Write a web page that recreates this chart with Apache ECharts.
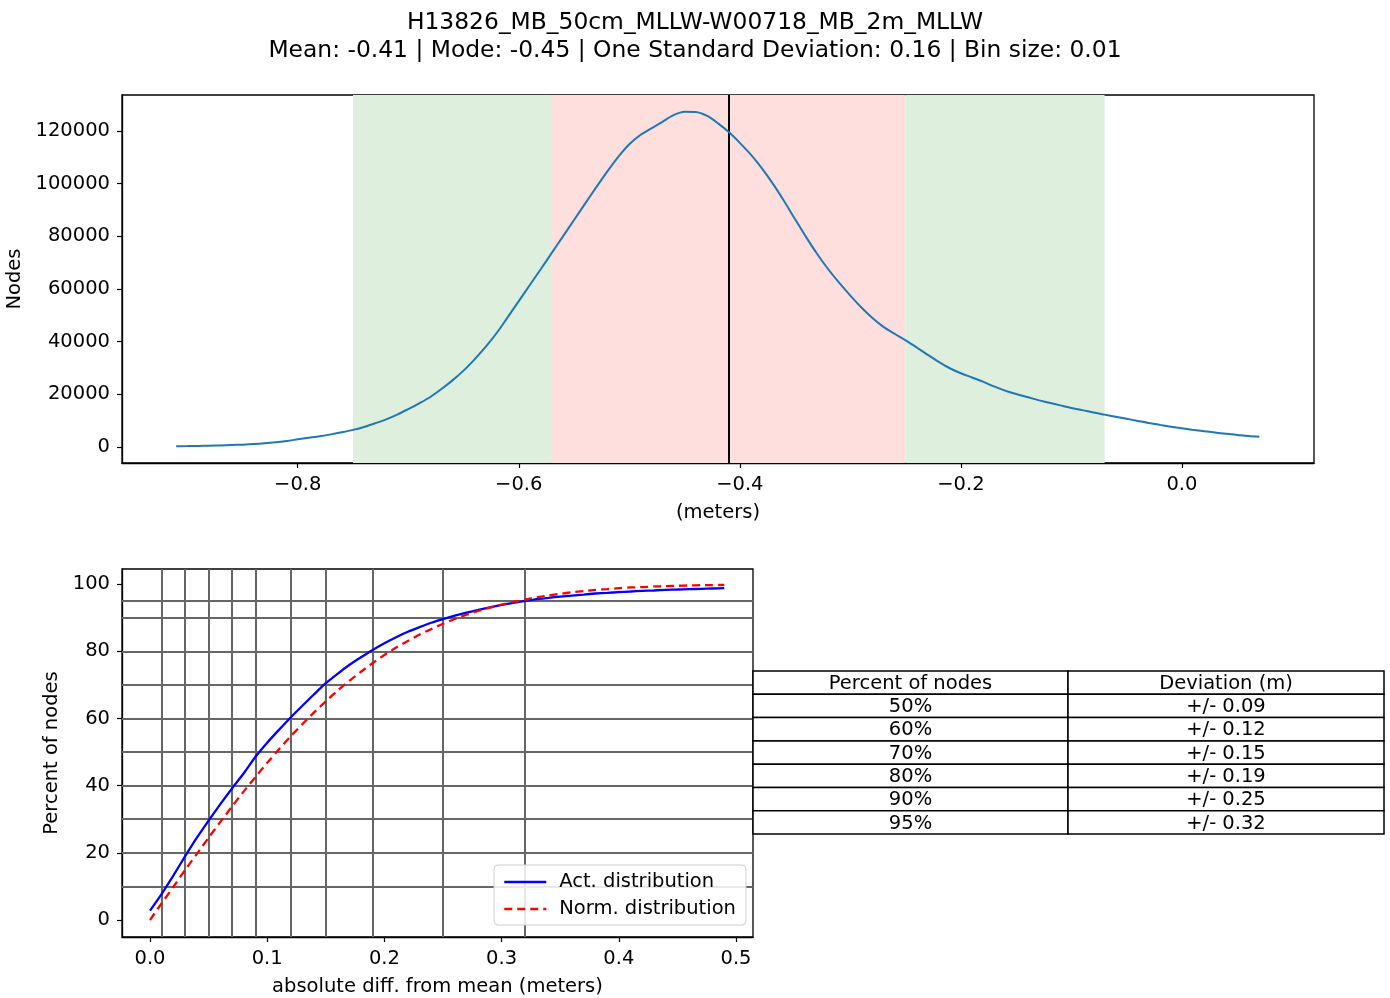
<!DOCTYPE html>
<html>
<head>
<meta charset="utf-8">
<script src="https://cdn.jsdelivr.net/npm/echarts@6/dist/echarts.min.js"></script>
<style>
html,body{margin:0;padding:0;background:#fff;}
#chart{width:1390px;height:998px;}
</style>
</head>
<body>
<div id="chart"></div>
<script>
// ---------- DATA ----------
const titleLine1 = 'H13826_MB_50cm_MLLW-W00718_MB_2m_MLLW';
const titleLine2 = 'Mean: -0.41 | Mode: -0.45 | One Standard Deviation: 0.16 | Bin size: 0.01';

const binCenters = [-0.91,-0.90,-0.89,-0.88,-0.87,-0.86,-0.85,-0.84,-0.83,-0.82,-0.81,-0.80,-0.79,-0.78,-0.77,-0.76,-0.75,-0.74,-0.73,-0.72,-0.71,-0.70,-0.69,-0.68,-0.67,-0.66,-0.65,-0.64,-0.63,-0.62,-0.61,-0.60,-0.59,-0.58,-0.57,-0.56,-0.55,-0.54,-0.53,-0.52,-0.51,-0.50,-0.49,-0.48,-0.47,-0.46,-0.45,-0.44,-0.43,-0.42,-0.41,-0.40,-0.39,-0.38,-0.37,-0.36,-0.35,-0.34,-0.33,-0.32,-0.31,-0.30,-0.29,-0.28,-0.27,-0.26,-0.25,-0.24,-0.23,-0.22,-0.21,-0.20,-0.19,-0.18,-0.17,-0.16,-0.15,-0.14,-0.13,-0.12,-0.11,-0.10,-0.09,-0.08,-0.07,-0.06,-0.05,-0.04,-0.03,-0.02,-0.01,0.00,0.01,0.02,0.03,0.04,0.05,0.06,0.07];
const nodeCounts = [300,350,420,500,600,750,900,1100,1400,1800,2300,2900,3500,4100,4800,5600,6500,7600,9000,10500,12300,14400,16600,19000,22000,25300,29000,33300,38000,43300,49300,55400,61500,67600,73800,80000,86200,92400,98600,104600,110200,115000,118500,121000,123500,126000,127300,127200,125800,123000,119600,115500,111000,105800,99900,93400,86500,79700,73300,67500,62300,57500,53000,49000,45600,43000,40500,37800,35000,32300,29900,28000,26400,24800,23000,21400,20100,19000,17800,16800,15800,14800,14000,13100,12300,11500,10700,9900,9100,8400,7700,7100,6500,6000,5500,5000,4600,4200,3900];

const meanValue = -0.41;
const greenBands = [[-0.75, -0.57], [-0.25, -0.07]];
const redBands = [[-0.57, -0.25]];
const topXTicks = [-0.8, -0.6, -0.4, -0.2, 0.0];
const topYTicks = [0, 20000, 40000, 60000, 80000, 100000, 120000];

const diffX = [0.00,0.01,0.02,0.03,0.04,0.05,0.06,0.07,0.08,0.09,0.10,0.11,0.12,0.13,0.14,0.15,0.16,0.17,0.18,0.19,0.20,0.21,0.22,0.23,0.24,0.25,0.26,0.27,0.28,0.29,0.30,0.31,0.32,0.33,0.34,0.35,0.36,0.37,0.38,0.39,0.40,0.41,0.42,0.43,0.44,0.45,0.46,0.47,0.48,0.49];
const actPercent = [2.8,7.8,13.3,19.0,24.5,29.6,34.5,39.2,43.7,48.6,52.8,56.6,60.3,63.8,67.2,70.5,73.3,75.9,78.2,80.4,82.4,84.2,85.8,87.2,88.5,89.6,90.6,91.5,92.3,93.1,93.8,94.4,95.0,95.5,95.9,96.3,96.6,96.9,97.2,97.4,97.6,97.8,98.0,98.1,98.3,98.4,98.5,98.6,98.7,98.8];
const normPercent = [0,5.0,9.9,14.9,19.7,24.5,29.2,33.8,38.3,42.6,46.8,50.8,54.7,58.3,61.8,65.1,68.3,71.2,73.9,76.5,78.9,81.1,83.1,85.0,86.6,88.2,89.6,90.9,92.0,93.0,93.9,94.7,95.4,96.1,96.6,97.1,97.6,97.9,98.3,98.5,98.8,99.0,99.1,99.3,99.4,99.5,99.6,99.7,99.7,99.8];

const pctLevels = [10, 20, 30, 40, 50, 60, 70, 80, 90, 95];
const pctDeviation = [0.014, 0.032, 0.051, 0.072, 0.093, 0.119, 0.148, 0.188, 0.253, 0.320];
const bottomXTicks = [0.0, 0.1, 0.2, 0.3, 0.4, 0.5];
const bottomYTicks = [0, 20, 40, 60, 80, 100];

const tableHeader = ['Percent of nodes', 'Deviation (m)'];
const tablePercent = ['50%', '60%', '70%', '80%', '90%', '95%'];
const tableDeviation = ['+/- 0.09', '+/- 0.12', '+/- 0.15', '+/- 0.19', '+/- 0.25', '+/- 0.32'];

// ---------- CHART ----------
const FONT = 'DejaVu Sans';
const FS = 19.5;
const chart = echarts.init(document.getElementById('chart'), null, {renderer: 'canvas'});

const minusFmt = d => v => (v < 0 ? '\u2212' : '') + Math.abs(v).toFixed(d);

function axisCommon(ticks, fmt) {
  return {
    axisLine: {show: true, onZero: false, lineStyle: {color: '#000', width: 1.3}},
    axisTick: {show: true, inside: false, length: 5, customValues: ticks, lineStyle: {color: '#000', width: 1.2}},
    axisLabel: {show: true, margin: 12, customValues: ticks, formatter: fmt, color: '#000', fontFamily: FONT, fontSize: FS},
    splitLine: {show: false},
    nameTextStyle: {color: '#000', fontFamily: FONT, fontSize: FS}
  };
}

// table graphics
const tableLeft = 753, tableRight = 1384, tableSplit = 1068, tableTop = 671, rowH = 23.3;
const tableRows = [tableHeader].concat(tablePercent.map((p, i) => [p, tableDeviation[i]]));
const tableGraphics = [];
tableRows.forEach((row, i) => {
  const y = tableTop + i * rowH;
  tableGraphics.push({type: 'rect', shape: {x: tableLeft, y: y, width: tableSplit - tableLeft, height: rowH},
    style: {fill: '#fff', stroke: '#000', lineWidth: 1.5}, z: 10});
  tableGraphics.push({type: 'rect', shape: {x: tableSplit, y: y, width: tableRight - tableSplit, height: rowH},
    style: {fill: '#fff', stroke: '#000', lineWidth: 1.5}, z: 10});
  tableGraphics.push({type: 'text', x: (tableLeft + tableSplit) / 2, y: y + rowH / 2 + 1, z: 11,
    style: {text: row[0], fill: '#000', font: FS + 'px "' + FONT + '"', align: 'center', verticalAlign: 'middle'}});
  tableGraphics.push({type: 'text', x: (tableSplit + tableRight) / 2, y: y + rowH / 2 + 1, z: 11,
    style: {text: row[1], fill: '#000', font: FS + 'px "' + FONT + '"', align: 'center', verticalAlign: 'middle'}});
});

const option = {
  backgroundColor: '#fff',
  animation: false,
  title: {
    text: titleLine1 + '\n' + titleLine2,
    left: 'center', top: 4,
    textStyle: {fontFamily: FONT, fontSize: 23.4, fontWeight: 'normal', color: '#000', lineHeight: 28}
  },
  grid: [
    {left: 122, top: 95, width: 1192, height: 368, show: true, borderColor: '#000', borderWidth: 1.3,
      backgroundColor: 'transparent', outerBoundsMode: 'none', containLabel: false},
    {left: 122, top: 569, width: 631, height: 368, show: true, borderColor: '#000', borderWidth: 1.3,
      backgroundColor: 'transparent', outerBoundsMode: 'none', containLabel: false}
  ],
  xAxis: [
    Object.assign(axisCommon(topXTicks, minusFmt(1)), {type: 'value', gridIndex: 0, min: -0.959, max: 0.1195,
      name: '(meters)', nameLocation: 'middle', nameGap: 40}),
    Object.assign(axisCommon(bottomXTicks, minusFmt(1)), {type: 'value', gridIndex: 1, min: -0.0239, max: 0.5145,
      name: 'absolute diff. from mean (meters)', nameLocation: 'middle', nameGap: 40})
  ],
  yAxis: [
    Object.assign(axisCommon(topYTicks, v => String(v)), {type: 'value', gridIndex: 0, min: -6076, max: 133670,
      name: 'Nodes', nameLocation: 'middle', nameGap: 86}),
    Object.assign(axisCommon(bottomYTicks, v => String(v)), {type: 'value', gridIndex: 1, min: -5.06, max: 104.5,
      name: 'Percent of nodes', nameLocation: 'middle', nameGap: 60})
  ],
  legend: {
    show: true,
    data: ['Act. distribution', 'Norm. distribution'],
    orient: 'vertical',
    left: 494, top: 865,
    itemWidth: 42, itemHeight: 14, itemGap: 7,
    padding: [7, 10, 6, 9],
    backgroundColor: 'rgba(255,255,255,0.85)',
    borderColor: '#d0d0d0', borderWidth: 1, borderRadius: 4,
    itemStyle: {opacity: 0},
    lineStyle: {width: 2.5},
    textStyle: {fontFamily: FONT, fontSize: FS, color: '#000', padding: [0, 0, 0, 8]},
    z: 20
  },
  series: [
    {
      name: 'bands', type: 'line', xAxisIndex: 0, yAxisIndex: 0, data: [], silent: true, z: 1,
      markArea: {
        silent: true,
        data: greenBands.map(b => [{xAxis: b[0], itemStyle: {color: '#deefde'}}, {xAxis: b[1]}])
          .concat(redBands.map(b => [{xAxis: b[0], itemStyle: {color: '#ffdede'}}, {xAxis: b[1]}]))
      }
    },
    {
      name: 'Nodes', type: 'line', xAxisIndex: 0, yAxisIndex: 0, z: 5,
      data: binCenters.map((x, i) => [x, nodeCounts[i]]),
      showSymbol: false, symbol: 'none', smooth: 0.3,
      lineStyle: {color: '#1f77b4', width: 2},
      markLine: {
        silent: true, symbol: ['none', 'none'], label: {show: false},
        lineStyle: {color: '#000', width: 2, type: 'solid'},
        data: [{xAxis: meanValue}]
      }
    },
    {
      name: 'grid', type: 'line', xAxisIndex: 1, yAxisIndex: 1, data: [], silent: true, z: 1,
      markLine: {
        silent: true, symbol: ['none', 'none'], label: {show: false},
        lineStyle: {color: '#666', width: 2, type: 'solid'},
        data: pctDeviation.map(v => ({xAxis: v})).concat(pctLevels.map(v => ({yAxis: v})))
      }
    },
    {
      name: 'Act. distribution', type: 'line', xAxisIndex: 1, yAxisIndex: 1, z: 5,
      data: diffX.map((x, i) => [x, actPercent[i]]),
      showSymbol: false, symbol: 'none', smooth: 0.2,
      lineStyle: {color: '#0000ff', width: 2.3},
      itemStyle: {color: '#0000ff'}
    },
    {
      name: 'Norm. distribution', type: 'line', xAxisIndex: 1, yAxisIndex: 1, z: 6,
      data: diffX.map((x, i) => [x, normPercent[i]]),
      showSymbol: false, symbol: 'none', smooth: 0.2,
      lineStyle: {color: '#ff0000', width: 2.3, type: [8, 5]},
      itemStyle: {color: '#ff0000'}
    }
  ],
  graphic: tableGraphics
};
chart.setOption(option);
</script>
</body>
</html>
